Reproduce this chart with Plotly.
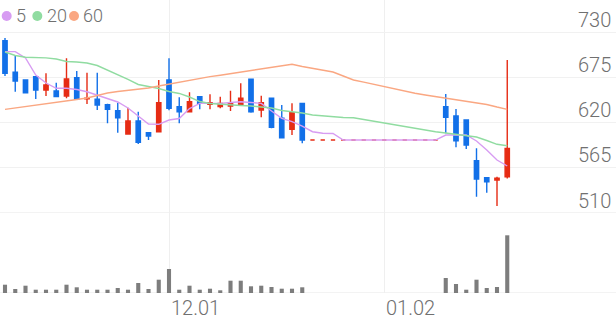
import plotly.graph_objects as go

# ---------------- data ----------------
x_idx = list(range(50))

opens = [719.4, 681.0, 671.7, 675.7, 659.5, 658.3, 652.2, 674.5, 648.8, 648.2,
         641.6, 634.3, 606.0, 621.8, 607.6, 608.8, 671.7, 639.2, 633.1, 651.4,
         642.2, 639.4, 640.0, 642.2, 672.5, 635.2, 649.4, 625.1, 611.7, 643.3,
         598.7, 598.7, 598.7, 598.7, 598.7, 598.7, 598.7, 598.7, 598.7, 598.7,
         598.7, 598.7, 598.7, 639.2, 627.9, 623.0, 573.6, 552.9, 550.1, 554.1]
highs = [722.7, 701.6, 672.5, 676.5, 679.8, 668.4, 698.0, 682.6, 680.5, 680.5,
         642.8, 644.0, 638.0, 633.1, 608.0, 671.7, 698.0, 650.6, 656.7, 652.0,
         654.3, 651.4, 658.7, 667.6, 673.0, 652.6, 650.0, 641.3, 643.3, 644.0,
         598.7, 598.7, 598.7, 598.7, 598.7, 598.7, 598.7, 598.7, 598.7, 598.7,
         598.7, 598.7, 598.7, 654.6, 636.4, 623.6, 588.6, 553.0, 554.0, 696.0]
lows = [676.5, 657.4, 655.5, 648.6, 652.2, 651.0, 649.4, 648.0, 642.5, 635.2,
        619.0, 607.6, 605.0, 593.9, 598.7, 608.0, 635.0, 619.0, 633.0, 636.0,
        636.0, 637.3, 634.0, 641.4, 632.0, 626.3, 613.0, 600.8, 604.8, 594.7,
        598.7, 598.7, 598.7, 598.7, 598.7, 598.7, 598.7, 598.7, 598.7, 598.7,
        598.7, 598.7, 598.7, 606.9, 589.9, 587.8, 529.8, 534.7, 518.5, 552.0]
closes = [679.8, 670.4, 656.2, 659.5, 665.6, 651.4, 672.9, 648.6, 649.6, 641.2,
          636.0, 625.8, 621.8, 596.0, 603.6, 644.0, 637.3, 633.1, 645.3, 643.3,
          644.1, 643.3, 644.0, 649.4, 633.1, 644.0, 614.2, 601.5, 631.9, 598.7,
          598.7, 598.7, 598.7, 598.7, 598.7, 598.7, 598.7, 598.7, 598.7, 598.7,
          598.7, 598.7, 598.7, 626.3, 597.9, 592.7, 551.3, 548.0, 552.2, 588.6]
volumes = [83, 40, 73, 33, 33, 33, 83, 57, 33, 33,
           33, 50, 33, 100, 40, 133, 240, 33, 73, 33,
           43, 27, 123, 123, 67, 73, 60, 43, 43, 57,
           0, 0, 0, 0, 0, 0, 0, 0, 0, 0,
           0, 0, 0, 150, 90, 33, 133, 50, 60, 577]

ma5 = [706.1, 706.1, 698.4, 677.7, 668.0, 661.6, 661.6, 660.1, 657.4, 653.4,
       649.4, 644.9, 637.6, 627.9, 618.2, 617.8, 623.0, 624.9, 637.0, 643.3,
       643.3, 643.3, 644.3, 645.3, 644.3, 643.3, 634.0, 625.1, 621.0, 615.7,
       608.8, 606.9, 606.6, 598.7, 598.7, 598.7, 598.7, 598.7, 598.7, 598.7,
       598.7, 598.7, 598.7, 604.8, 604.8, 604.8, 597.5, 586.6, 574.4, 567.1]
ma20 = [705.7, 701.4, 699.3, 699.0, 698.6, 697.2, 694.1, 693.5, 692.3, 689.3,
        683.8, 677.7, 672.3, 666.2, 663.8, 661.3, 657.7, 655.3, 651.0, 645.5,
        643.1, 642.1, 641.3, 640.7, 640.1, 639.2, 637.6, 634.6, 633.4, 631.6,
        629.1, 627.9, 626.7, 626.1, 625.8, 623.6, 621.2, 619.4, 617.0, 615.1,
        613.0, 610.9, 608.8, 607.2, 605.7, 604.2, 602.4, 598.1, 593.5, 591.8]
ma60 = [636.0, 637.6, 639.2, 640.9, 642.5, 644.3, 646.1, 648.0, 649.8, 652.8,
        655.9, 657.7, 658.9, 660.7, 661.9, 664.4, 666.8, 669.2, 671.4, 673.5,
        675.7, 677.5, 679.4, 681.4, 683.2, 685.0, 686.9, 688.7, 690.7, 688.1,
        685.6, 683.2, 681.4, 676.5, 671.7, 669.0, 666.2, 663.5, 660.7, 658.0,
        655.5, 653.4, 651.4, 649.4, 647.4, 645.5, 644.1, 641.9, 638.8, 636.0]

ma_names = ["5", "20", "60"]
tick_idx = [16, 37]
tick_labels = ["12.01", "01.02"]
price_ticks = [510, 565, 620, 675, 730]

# ---------------- styles ----------------
W, H = 616, 321
RED = "#e62c14"
BLUE = "#1270e8"
MA_COLORS = ["#d79cf2", "#90dca1", "#faa782"]
TXT = "#707070"
FONT = "Roboto"

def px_x(p):
    return p / W

def px_y(p):
    return 1 - p / H

price_dom = [px_y(213), 1.0]
vol_dom = [px_y(293), px_y(213)]
units_per_px = (price_ticks[-1] - price_ticks[0]) / (213 - 32)
price_range = [price_ticks[0], price_ticks[0] + 213 * units_per_px]
vol_range = [0, 800]
x_range = [-5 / 10.25, (W - 5) / 10.25]

fig = go.Figure()

# moving averages
for name, vals, col in zip(ma_names, [ma60, ma20, ma5][::-1], MA_COLORS):
    pass
for name, vals, col in zip(ma_names, [ma5, ma20, ma60], MA_COLORS):
    fig.add_trace(go.Scatter(x=x_idx, y=vals, mode="lines", name=name,
                             line=dict(color=col, width=1.4), hoverinfo="skip",
                             xaxis="x", yaxis="y"))

traded = [i for i in x_idx if volumes[i] > 0]
flat = [i for i in x_idx if volumes[i] == 0]

def pick(arr, idx):
    return [arr[i] for i in idx]

fig.add_trace(go.Candlestick(
    x=traded, open=pick(opens, traded), high=pick(highs, traded),
    low=pick(lows, traded), close=pick(closes, traded),
    increasing=dict(line=dict(color=RED, width=1.4), fillcolor=RED),
    decreasing=dict(line=dict(color=BLUE, width=1.4), fillcolor=BLUE),
    whiskerwidth=0, xaxis="x", yaxis="y", hoverinfo="skip"))
fig.add_trace(go.Candlestick(
    x=flat, open=pick(opens, flat), high=pick(highs, flat),
    low=pick(lows, flat), close=pick(closes, flat),
    increasing=dict(line=dict(color=RED, width=1.6), fillcolor=RED),
    decreasing=dict(line=dict(color=RED, width=1.6), fillcolor=RED),
    whiskerwidth=0, xaxis="x", yaxis="y", hoverinfo="skip"))

fig.add_trace(go.Bar(x=x_idx, y=volumes, marker=dict(color="#7d7d7d", line=dict(width=0)),
                     width=0.4, xaxis="x", yaxis="y2", hoverinfo="skip"))

shapes = [
    dict(type="line", xref="paper", yref="y", x0=0, x1=1, y0=price_ticks[0], y1=price_ticks[0],
         line=dict(color="#e6e6e6", width=1), layer="below"),
    dict(type="line", xref="paper", yref="y2", x0=0, x1=1, y0=0, y1=0,
         line=dict(color="#e6e6e6", width=1), layer="below"),
]
annotations = []
for v in price_ticks:
    annotations.append(dict(x=px_x(613), xref="paper", y=v, yref="y", yshift=12.5,
                            text=str(v), showarrow=False, xanchor="right", yanchor="middle",
                            font=dict(family=FONT, size=20, color=TXT, weight=300)))
for t, lab in zip(tick_idx, tick_labels):
    annotations.append(dict(x=t, xref="x", y=px_y(308), yref="paper", text=lab,
                            showarrow=False, xanchor="left", yanchor="middle",
                            font=dict(family=FONT, size=20, color=TXT, weight=300)))

# custom legend
leg_circle_x = [6.7, 37.3, 74]
leg_text_x = [13.5, 44.5, 81]
for cx, tx, name, col in zip(leg_circle_x, leg_text_x, ma_names, MA_COLORS):
    shapes.append(dict(type="circle", xref="paper", yref="paper",
                       x0=px_x(cx - 5), x1=px_x(cx + 5), y0=px_y(21), y1=px_y(11),
                       fillcolor=col, line=dict(width=0)))
    annotations.append(dict(x=px_x(tx), xref="paper", y=px_y(15.5), yref="paper", text=name,
                            showarrow=False, xanchor="left", yanchor="middle",
                            font=dict(family=FONT, size=18, color=TXT, weight=300)))

fig.update_layout(
    width=W, height=H, margin=dict(l=0, r=0, t=0, b=0),
    paper_bgcolor="white", plot_bgcolor="white", showlegend=False,
    boxgap=0.4,
    xaxis=dict(range=x_range, anchor="y2", tickvals=tick_idx, showticklabels=False,
               showgrid=True, gridcolor="#efefef", gridwidth=1, zeroline=False,
               showline=False, ticks="", rangeslider=dict(visible=False)),
    yaxis=dict(domain=price_dom, range=price_range, tickvals=price_ticks[1:],
               showticklabels=False, showgrid=True, gridcolor="#f1f1f1",
               zeroline=False, showline=False, ticks=""),
    yaxis2=dict(domain=vol_dom, range=vol_range, showticklabels=False, showgrid=False,
                zeroline=False, showline=False, ticks=""),
    shapes=shapes, annotations=annotations,
)

fig.write_html("out.html")
